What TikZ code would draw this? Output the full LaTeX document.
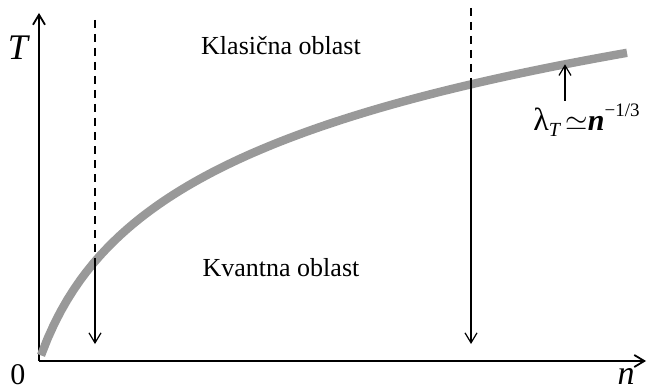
\documentclass[tikz,border=0pt]{standalone}
\usepackage{fontspec}
\setmainfont{Liberation Serif}
\usepackage{tikz}
\usetikzlibrary{arrows.meta,positioning}
\definecolor{curvegray}{rgb}{0.60,0.60,0.60}

\begin{document}
\begin{tikzpicture}[
  x=0.5pt, y=-0.5pt,
  axis/.style={-{Straight Barb[length=5pt,width=6pt]}, line width=0.9pt},
  curve/.style={draw=curvegray, line width=4.2pt},
  guide/.style={dashed, dash pattern=on 4pt off 3pt, line width=0.6pt},
  drop/.style={-{Straight Barb[length=5pt,width=6pt]}, line width=0.6pt},
  lbl/.style={font=\fontsize{13}{15}\selectfont, inner sep=0pt},
  declare function={tc(\x)=361-110*ln(1+(\x-39)/38);}
]
  \useasboundingbox (0,0) rectangle (647,390);

  % Osi
  \coordinate (O) at (39,361);
  \coordinate (xend) at (646,361);
  \coordinate (yend) at (39,13);
  \draw[axis] (O) -- (xend);
  \draw[axis] (O) -- (yend);
  \node[lbl, font=\fontsize{18}{18}\selectfont\itshape] (tlab) at (18,48) {T};
  \node[lbl, font=\fontsize{15}{15}\selectfont] (zero) at (18,375) {0};
  \node[lbl, font=\fontsize{17}{17}\selectfont\itshape] (nlab) at (626,376) {n};

  % Krivulja
  \draw[curve] plot[domain=41:627, samples=90] (\x,{tc(\x)});
  \coordinate (c1) at (95,{tc(95)});
  \coordinate (c2) at (471,{tc(471)});
  \coordinate (c3) at (565,{tc(565)});

  % Granice
  \coordinate (g1) at (95,20);
  \coordinate (g2) at (471,8);
  \coordinate (d1) at (95,344);
  \coordinate (d2) at (471,344);
  \draw[guide] (g1) -- (c1);
  \draw[drop] (c1) -- (d1);
  \draw[guide] (g2) -- (c2);
  \draw[drop] (c2) -- (d2);

  % Oznake
  \node[lbl] (klas) at (281,46) {Klasična oblast};
  \node[lbl] (kvant) at (281,268) {Kvantna oblast};
  \node[lbl, anchor=base east] (lam) at (640,131)
    {{\fontsize{16}{16}\selectfont λ}\raisebox{-0.45ex}{\fontsize{10}{10}\selectfont\textit{T}}\,{\fontsize{14}{14}\selectfont$\simeq$}\textit{\textbf{\fontsize{15}{15}\selectfont n}}\raisebox{1.2ex}{\fontsize{9.5}{10}\selectfont −1/3}};
  \draw[drop] (lam.north -| c3) ++(0,-3) coordinate (la) -- (c3);
\end{tikzpicture}
\end{document}
